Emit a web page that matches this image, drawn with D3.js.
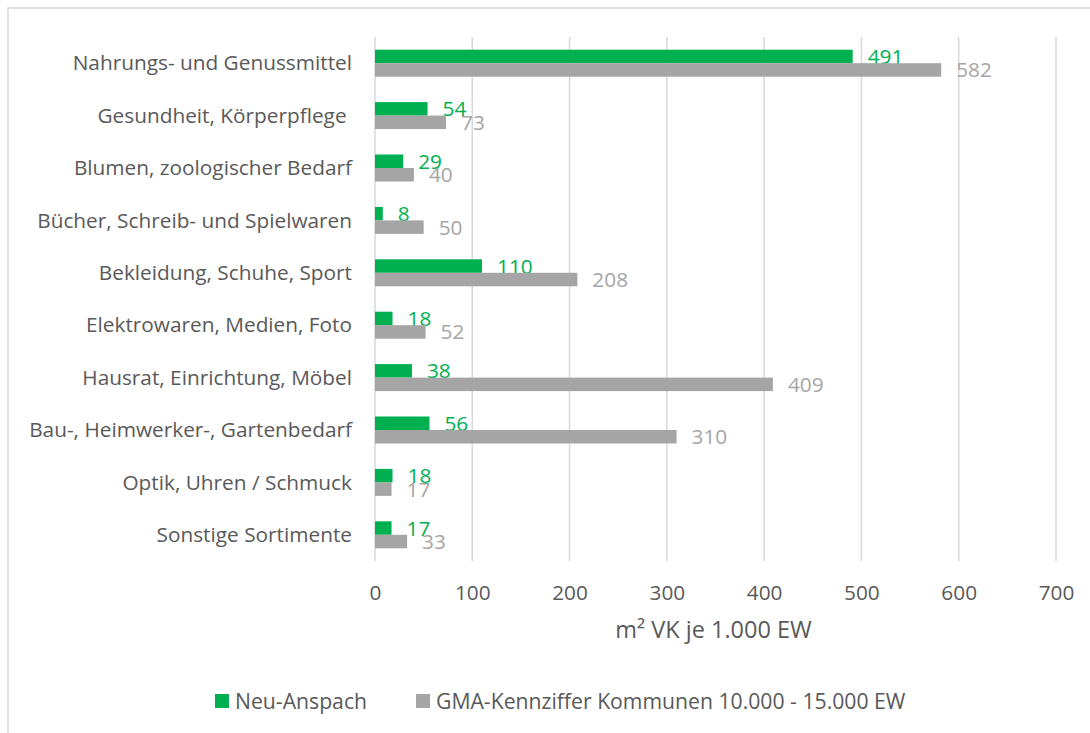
<!DOCTYPE html>
<html>
<head>
<meta charset="utf-8">
<script src="https://cdn.jsdelivr.net/npm/d3@7"></script>
<style>
  html, body { margin: 0; padding: 0; background: #fff; }
  svg { display: block; }
  text { font-family: "Open Sans", sans-serif; }
</style>
</head>
<body>
<svg id="chart" width="1090" height="733"></svg>
<script>
const categories = [
  "Nahrungs- und Genussmittel",
  "Gesundheit, Körperpflege ",
  "Blumen, zoologischer Bedarf",
  "Bücher, Schreib- und Spielwaren",
  "Bekleidung, Schuhe, Sport",
  "Elektrowaren, Medien, Foto",
  "Hausrat, Einrichtung, Möbel",
  "Bau-, Heimwerker-, Gartenbedarf",
  "Optik, Uhren / Schmuck",
  "Sonstige Sortimente"
];
const neuAnspach = [491, 54, 29, 8, 110, 18, 38, 56, 18, 17];
const gmaKennziffer = [582, 73, 40, 50, 208, 52, 409, 310, 17, 33];
const seriesNames = ["Neu-Anspach", "GMA-Kennziffer Kommunen 10.000 - 15.000 EW"];
const xTicks = [0, 100, 200, 300, 400, 500, 600, 700];
const axisTitle = "m² VK je 1.000 EW";

const colors = ["#00B050", "#A5A5A5"];
const textColor = "#595959";
const fontFamily = "'Open Sans', sans-serif";
const fontSize = 20.8;
const legendFontSize = 21.2;
const titleFontSize = 23.5;

const svg = d3.select("#chart");

// outer chart border (cropped at right/bottom)
svg.append("rect")
  .attr("x", 8).attr("y", 8).attr("width", 1100).attr("height", 740)
  .attr("fill", "none").attr("stroke", "#D9D9D9").attr("stroke-width", 1.5);

const plot = { left: 375, right: 1056, top: 37, bottom: 561 };

const x = d3.scaleLinear().domain([0, 700]).range([plot.left, plot.right]);
const y = d3.scaleBand().domain(categories).range([plot.top, plot.bottom]).paddingInner(0.485).paddingOuter(0.2425);
const sub = d3.scaleBand().domain([0, 1]).range([0, y.bandwidth()]);

// gridlines
svg.append("g")
  .selectAll("line")
  .data(xTicks)
  .join("line")
  .attr("x1", d => x(d)).attr("x2", d => x(d))
  .attr("y1", plot.top).attr("y2", plot.bottom)
  .attr("stroke", "#D9D9D9").attr("stroke-width", 1.5);

// x axis tick labels
const xAxis = d3.axisBottom(x).tickValues(xTicks).tickSize(0).tickPadding(0);
const gx = svg.append("g").attr("transform", `translate(0,${plot.bottom})`).call(xAxis);
gx.select(".domain").remove();
gx.selectAll("text")
  .attr("y", 39).attr("dy", null)
  .attr("fill", textColor)
  .style("font-size", fontSize + "px")
  .style("font-family", fontFamily);

// y axis category labels
const yAxis = d3.axisLeft(y).tickSize(0).tickPadding(0);
const gy = svg.append("g").attr("transform", `translate(352,0)`).call(yAxis);
gy.select(".domain").remove();
gy.selectAll("text")
  .attr("x", 0).attr("dy", "0.35em")
  .attr("fill", textColor)
  .style("font-size", fontSize + "px")
  .style("font-family", fontFamily)
  .style("white-space", "pre")
  .text(d => d);

const series = [neuAnspach, gmaKennziffer];

series.forEach((vals, si) => {
  const g = svg.append("g");
  g.selectAll("rect")
    .data(vals)
    .join("rect")
    .attr("x", x(0))
    .attr("y", (d, i) => y(categories[i]) + sub(si))
    .attr("width", d => x(d) - x(0))
    .attr("height", sub.bandwidth())
    .attr("fill", colors[si]);
  g.selectAll("text")
    .data(vals)
    .join("text")
    .attr("x", d => x(d) + 15)
    .attr("y", (d, i) => y(categories[i]) + sub(si) + sub.bandwidth() / 2)
    .attr("dy", "0.36em")
    .attr("fill", colors[si])
    .style("font-size", fontSize + "px")
    .text(d => d);
});

// axis title
svg.append("text")
  .attr("x", (plot.left + plot.right) / 2 - 2)
  .attr("y", 638)
  .attr("text-anchor", "middle")
  .attr("fill", textColor)
  .style("font-size", titleFontSize + "px")
  .text(axisTitle);

// legend
const legendItems = [
  { name: seriesNames[0], color: colors[0], x: 215 },
  { name: seriesNames[1], color: colors[1], x: 416 }
];
const lg = svg.append("g");
legendItems.forEach(item => {
  lg.append("rect")
    .attr("x", item.x).attr("y", 694).attr("width", 14).attr("height", 14)
    .attr("fill", item.color);
  lg.append("text")
    .attr("x", item.x + 20).attr("y", 701).attr("dy", "0.36em")
    .attr("fill", textColor)
    .style("font-size", legendFontSize + "px")
    .text(item.name);
});
</script>
</body>
</html>
